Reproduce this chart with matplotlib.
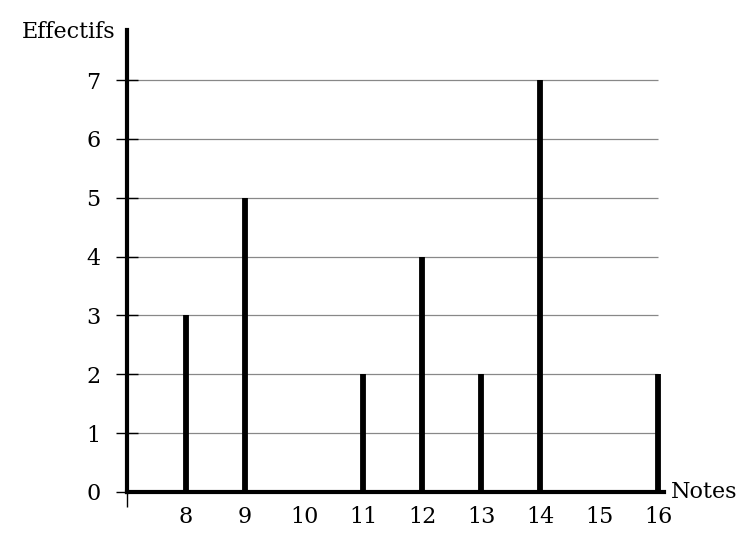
import matplotlib.pyplot as plt

# Notes et effectifs
notes = [8, 9, 11, 12, 13, 14, 16]
effectifs = [3, 5, 2, 4, 2, 7, 2]
x_labels = [8, 9, 10, 11, 12, 13, 14, 15, 16]
y_levels = [0, 1, 2, 3, 4, 5, 6, 7]

plt.rcParams['font.family'] = ['DejaVu Serif']

fig = plt.figure(figsize=(7.56, 5.43), dpi=100)
ax = fig.add_axes([127 / 756, 51 / 543, 537 / 756, 462 / 543])

x0 = 7
ax.set_xlim(x0, 16.1)
ax.set_ylim(0, 7.85)

# lignes horizontales grises
ax.hlines(y_levels[1:], x0, max(x_labels), color='#888888', lw=0.9, zorder=1)

# batons
ax.vlines(notes, 0, effectifs, color='black', lw=4.2, zorder=3)

for side in ['top', 'right']:
    ax.spines[side].set_visible(False)
for side in ['left', 'bottom']:
    ax.spines[side].set_linewidth(3)
    ax.spines[side].set_zorder(4)

ax.set_yticks(y_levels)
ax.set_yticklabels([str(v) for v in y_levels], fontsize=16)
ax.tick_params(axis='y', direction='inout', length=16, width=1, pad=11)

ax.set_xticks(x_labels)
ax.set_xticklabels([str(v) for v in x_labels], fontsize=16)
ax.tick_params(axis='x', length=0, pad=10)
ax.set_xticks([x0], minor=True)
ax.tick_params(axis='x', which='minor', direction='out', length=11, width=1)

ax.text(-0.022, 0.995, 'Effectifs', transform=ax.transAxes, ha='right',
        va='center', fontsize=16)
ax.text(1.012, 0.0, 'Notes', transform=ax.transAxes, ha='left',
        va='center', fontsize=16)

fig.savefig('out.png', dpi=100)
